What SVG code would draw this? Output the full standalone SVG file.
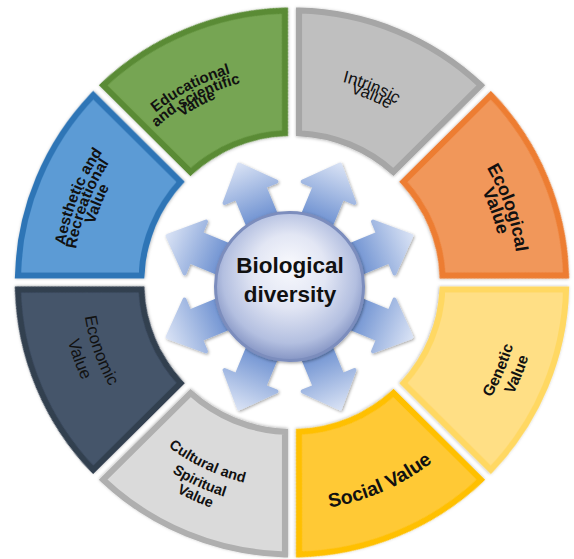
<svg xmlns="http://www.w3.org/2000/svg" width="574" height="559" viewBox="0 0 574 559">
<style>
.lbl{font-family:"Liberation Sans",Arial,sans-serif;fill:#111;text-anchor:middle}
.b{font-weight:bold}
.seg{stroke-width:6;stroke-linejoin:miter;filter:url(#sh)}
.ctr{font-family:"Liberation Sans",Arial,sans-serif;font-weight:bold;font-size:22.5px;fill:#111;text-anchor:middle}
</style>
<defs>
<filter id="sh" x="-10%" y="-10%" width="120%" height="120%"><feDropShadow dx="0" dy="0.6" stdDeviation="1.4" flood-color="#000" flood-opacity="0.3"/></filter>
<filter id="ash" x="-30%" y="-30%" width="160%" height="160%"><feDropShadow dx="1" dy="1.2" stdDeviation="1.6" flood-color="#000" flood-opacity="0.35"/></filter>
<radialGradient id="sph" cx="0.5" cy="0.45" r="0.55" fx="0.5" fy="0.35">
<stop offset="0" stop-color="#f8f9fd"/><stop offset="0.45" stop-color="#e2e6f4"/><stop offset="0.82" stop-color="#b3bfe0"/><stop offset="1" stop-color="#8595c4"/>
</radialGradient>
<linearGradient id="ag" gradientUnits="userSpaceOnUse" x1="70" y1="0" x2="134" y2="0">
<stop offset="0" stop-color="#6b8fd0"/><stop offset="1" stop-color="#dae3f5"/>
</linearGradient>
<path id="seg" d="M7,-271.91 A272,272 0 0 1 187.32,-197.22 L100.65,-110.55 A149.5,149.5 0 0 0 7,-149.34 Z"/>
<path id="arrow" d="M60,-15 L102,-15 L102,-28 L132,0 L102,28 L102,15 L60,15 Z" fill="url(#ag)" stroke="url(#ag)" stroke-width="4" stroke-linejoin="round"/>
<path id="cw218" d="M-188.79,-109 A218,218 0 0 1 188.79,-109"/>
<path id="cw206" d="M-178.40,-103 A206,206 0 0 1 178.40,-103"/>
<path id="cw199" d="M-172.33,-99.5 A199,199 0 0 1 172.33,-99.5"/>
<path id="cw207" d="M-179.26,-103.5 A207,207 0 0 1 179.26,-103.5"/>
<path id="cw198" d="M-171.90,-99.25 A198.5,198.5 0 0 1 171.90,-99.25"/>
<path id="cw226" d="M-195.72,-113 A226,226 0 0 1 195.72,-113"/>
<path id="cw211" d="M-182.73,-105.5 A211,211 0 0 1 182.73,-105.5"/>
<path id="cw230" d="M-199.18,-115 A230,230 0 0 1 199.18,-115"/>
<path id="cw218b" d="M-189.22,-109.25 A218.5,218.5 0 0 1 189.22,-109.25"/>
<path id="cw206b" d="M-178.40,-103 A206,206 0 0 1 178.40,-103"/>
<path id="cc230" d="M-199.18,115 A230,230 0 0 0 199.18,115"/>
<path id="cc248" d="M-214.77,124 A248,248 0 0 0 214.77,124"/>
<path id="cc228" d="M-197.45,114 A228,228 0 0 0 197.45,114"/>
<path id="cc205" d="M-178.14,102.85 A205.7,205.7 0 0 0 178.14,102.85"/>
<path id="cc224" d="M-194.59,112.35 A224.7,224.7 0 0 0 194.59,112.35"/>
<path id="cc239" d="M-207.32,119.7 A239.4,239.4 0 0 0 207.32,119.7"/>
<path id="cc210" d="M-181.86,105 A210,210 0 0 0 181.86,105"/>
<path id="cc231" d="M-200.65,115.85 A231.7,231.7 0 0 0 200.65,115.85"/>
</defs>
<rect width="574" height="559" fill="#fff"/>

<g id="intrinsic">
<use href="#seg" class="seg" fill="#bfbfbf" stroke="#a6a6a6" transform="translate(292,282.5) scale(1.008,1) rotate(0)"/>
<text class="lbl" font-size="17" transform="translate(292,282.5) rotate(22.2)"><textPath href="#cw207" startOffset="50%">Intrinsic</textPath></text>
<text class="lbl" font-size="17" transform="translate(292,282.5) rotate(23.1)"><textPath href="#cw198" startOffset="50%">Value</textPath></text>
</g>
<g id="ecological">
<use href="#seg" class="seg" fill="#f1975a" stroke="#ed7d31" transform="translate(292,282.5) scale(1.008,1) rotate(45)"/>
<text class="lbl b" font-size="18" transform="translate(292,282.5) rotate(70.9)"><textPath href="#cw226" startOffset="50%">Ecological</textPath></text>
<text class="lbl b" font-size="18" transform="translate(292,282.5) rotate(70.6)"><textPath href="#cw211" startOffset="50%">Value</textPath></text>
</g>
<g id="genetic">
<use href="#seg" class="seg" fill="#ffdf85" stroke="#ffd862" transform="translate(292,282.5) scale(1.008,1) rotate(90)"/>
<text class="lbl b" font-size="15.5" transform="translate(292,282.5) rotate(-67)"><textPath href="#cc230" startOffset="50%">Genetic</textPath></text>
<text class="lbl b" font-size="15.5" transform="translate(292,282.5) rotate(-67.8)"><textPath href="#cc248" startOffset="50%">Value</textPath></text>
</g>
<g id="social">
<use href="#seg" class="seg" fill="#ffc935" stroke="#ffc000" transform="translate(292,282.5) scale(1.008,1) rotate(135)"/>
<text class="lbl b" font-size="19.5" transform="translate(292,282.5) rotate(-23.8)"><textPath href="#cc228" startOffset="50%">Social Value</textPath></text>
</g>
<g id="cultural">
<use href="#seg" class="seg" fill="#dadada" stroke="#afafaf" transform="translate(292,282.5) scale(1.008,1) rotate(180)"/>
<text class="lbl b" font-size="14.5" transform="translate(292,282.5) rotate(25.2)"><textPath href="#cc205" startOffset="50%">Cultural and</textPath></text>
<text class="lbl b" font-size="14.5" transform="translate(292,282.5) rotate(24.9)"><textPath href="#cc224" startOffset="50%">Spiritual</textPath></text>
<text class="lbl b" font-size="14.5" transform="translate(292,282.5) rotate(24.3)"><textPath href="#cc239" startOffset="50%">Value</textPath></text>
</g>
<g id="economic">
<use href="#seg" class="seg" fill="#44546a" stroke="#323f50" transform="translate(292,282.5) scale(1.008,1) rotate(225)"/>
<text class="lbl" font-size="17" transform="translate(292,282.5) rotate(70.5)"><textPath href="#cc210" startOffset="50%">Economic</textPath></text>
<text class="lbl" font-size="17" transform="translate(292,282.5) rotate(70.2)"><textPath href="#cc231" startOffset="50%">Value</textPath></text>
</g>
<g id="aesthetic">
<use href="#seg" class="seg" fill="#5b9bd5" stroke="#2e75b6" transform="translate(292,282.5) scale(1.008,1) rotate(270)"/>
<text class="lbl b" font-size="15.5" transform="translate(292,282.5) rotate(-68.1)"><textPath href="#cw230" startOffset="50%">Aesthetic and</textPath></text>
<text class="lbl b" font-size="15.5" transform="translate(292,282.5) rotate(-69)"><textPath href="#cw218b" startOffset="50%">Recreational</textPath></text>
<text class="lbl b" font-size="15.5" transform="translate(292,282.5) rotate(-68)"><textPath href="#cw206b" startOffset="50%">Value</textPath></text>
</g>
<g id="educational">
<use href="#seg" class="seg" fill="#76a552" stroke="#5a8b36" transform="translate(292,282.5) scale(1.008,1) rotate(315)"/>
<text class="lbl b" font-size="15" transform="translate(292,282.5) rotate(-27.6)"><textPath href="#cw218" startOffset="50%">Educational</textPath></text>
<text class="lbl b" font-size="15" transform="translate(292,282.5) rotate(-27.8)"><textPath href="#cw206" startOffset="50%">and scientific</textPath></text>
<text class="lbl b" font-size="15" transform="translate(292,282.5) rotate(-28)"><textPath href="#cw199" startOffset="50%">Value</textPath></text>
</g>

<g id="connectors" filter="url(#ash)">
<use href="#arrow" transform="translate(289.5,286.5) rotate(-112.5)"/>
<use href="#arrow" transform="translate(289.5,286.5) rotate(-67.5)"/>
<use href="#arrow" transform="translate(289.5,286.5) rotate(-22.5)"/>
<use href="#arrow" transform="translate(289.5,286.5) rotate(22.5)"/>
<use href="#arrow" transform="translate(289.5,286.5) rotate(67.5)"/>
<use href="#arrow" transform="translate(289.5,286.5) rotate(112.5)"/>
<use href="#arrow" transform="translate(289.5,286.5) rotate(157.5)"/>
<use href="#arrow" transform="translate(289.5,286.5) rotate(202.5)"/>
</g>

<g id="center">
<circle cx="289.5" cy="286.5" r="74" fill="url(#sph)" stroke="#7b8dbd" stroke-width="3" filter="url(#ash)"/>
<text class="ctr" x="290" y="273">Biological</text>
<text class="ctr" x="290" y="302">diversity</text>
</g>
</svg>
